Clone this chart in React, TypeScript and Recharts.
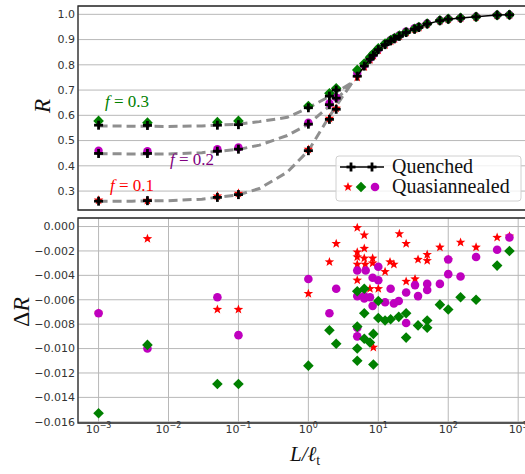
import {
  CartesianGrid,
  ComposedChart,
  ReferenceArea,
  Scatter,
  XAxis,
  YAxis,
} from 'recharts'

// ---- top panel: R vs L/l_t ----
const xLow = [0.001, 0.005, 0.05, 0.1, 1, 2, 2.5]
const quenchedLowF01 = [0.26, 0.262, 0.275, 0.286, 0.46, 0.584, 0.624]
const quenchedLowF02 = [0.449, 0.449, 0.458, 0.466, 0.565, 0.642, 0.668]
const quenchedLowF03 = [0.561, 0.56, 0.561, 0.563, 0.63, 0.676, 0.7]
const quasiLowF01 = [0.264, 0.263, 0.28, 0.291, 0.465, 0.588, 0.628]
const quasiLowF02 = [0.46, 0.458, 0.466, 0.473, 0.571, 0.647, 0.671]
const quasiLowF03 = [0.578, 0.571, 0.573, 0.578, 0.637, 0.687, 0.707]

const xHigh = [5, 6.3, 7.6, 8.5, 10, 12.5, 15, 17, 20, 25, 33, 38, 50, 76, 100, 150, 250, 500, 750]
const quenchedHigh = [0.755, 0.795, 0.822, 0.838, 0.86, 0.88, 0.895, 0.903, 0.913, 0.928, 0.941, 0.948, 0.962, 0.975, 0.981, 0.985, 0.99, 0.997, 0.998]
const quasiHighF01 = [0.75, 0.792, 0.82, 0.836, 0.858, 0.879, 0.894, 0.902, 0.913, 0.928, 0.941, 0.948, 0.962, 0.975, 0.981, 0.985, 0.99, 0.997, 0.998]
const quasiHighF02 = [0.768, 0.8, 0.827, 0.842, 0.863, 0.883, 0.898, 0.906, 0.917, 0.932, 0.945, 0.951, 0.964, 0.976, 0.982, 0.986, 0.991, 0.997, 0.998]
const quasiHighF03 = [0.78, 0.805, 0.83, 0.845, 0.865, 0.884, 0.898, 0.906, 0.916, 0.93, 0.943, 0.95, 0.963, 0.976, 0.982, 0.986, 0.99, 0.997, 0.998]

// dashed fit curves
const fitX = [0.001, 0.003, 0.01, 0.03, 0.1, 0.2, 0.5, 1, 2, 3, 4.2]
const fitF01 = [0.26, 0.26, 0.262, 0.268, 0.285, 0.31, 0.375, 0.46, 0.596, 0.67, 0.728]
const fitF02 = [0.448, 0.447, 0.447, 0.452, 0.465, 0.482, 0.52, 0.565, 0.637, 0.685, 0.727]
const fitF03 = [0.558, 0.557, 0.556, 0.558, 0.565, 0.575, 0.592, 0.63, 0.675, 0.705, 0.73]

// ---- bottom panel: delta R ----
const starX = [0.001, 0.005, 0.05, 0.1, 1, 2, 2.5, 5, 5, 5, 5, 5, 6.3, 6.3, 6.3, 6.5, 7.6, 8.3, 8.3, 8.5, 10, 12.5, 14.7, 16.7, 20, 25, 25, 33.5, 37, 50, 50, 76, 100, 150, 250, 500, 750]
const starDR = [-0.0071, -0.001, -0.0068, -0.0068, -0.0055, -0.0029, -0.0014, -0.0001, -0.0021, -0.0025, -0.0031, -0.0044, -0.0007, -0.0018, -0.0026, -0.0031, -0.0051, -0.0026, -0.003, -0.0099, -0.0051, -0.0037, -0.0029, -0.0031, -0.0006, -0.0014, -0.0045, -0.0043, -0.0027, -0.0023, -0.0028, -0.0017, -0.0027, -0.0013, -0.0017, -0.0009, -0.0008]

const circleX = [0.001, 0.005, 0.05, 0.1, 1, 2, 2.5, 5, 5, 5, 5, 6.3, 6.6, 6.3, 7.6, 8.3, 8.3, 10, 10, 12.5, 15, 16.7, 19.6, 25, 25, 33.5, 37, 50, 50, 76, 100, 100, 150, 250, 500, 750]
const circleDR = [-0.0071, -0.01, -0.0058, -0.0089, -0.0043, -0.0071, -0.0051, -0.0036, -0.0057, -0.0083, -0.009, -0.0057, -0.0036, -0.0059, -0.0058, -0.0042, -0.0065, -0.0033, -0.0044, -0.0062, -0.0051, -0.0063, -0.0061, -0.0054, -0.0079, -0.0048, -0.0057, -0.0047, -0.0052, -0.0047, -0.0027, -0.0039, -0.0041, -0.0025, -0.0019, -0.0009]

const diamondX = [0.001, 0.005, 0.05, 0.1, 1, 2, 2.5, 5, 5, 5, 5, 6.3, 6.3, 6.3, 7.6, 8.5, 8.5, 10, 10, 12.5, 15, 19.6, 25, 25, 37, 50, 50, 76, 100, 150, 250, 500, 750]
const diamondDR = [-0.0153, -0.0097, -0.0129, -0.0129, -0.0114, -0.0085, -0.0096, -0.0053, -0.0082, -0.01, -0.011, -0.0051, -0.0071, -0.0092, -0.0095, -0.0088, -0.0113, -0.0061, -0.0075, -0.0077, -0.0076, -0.0074, -0.0071, -0.0091, -0.0081, -0.0077, -0.0083, -0.0064, -0.0068, -0.0058, -0.006, -0.0032, -0.002]

const xTicks = [0.001, 0.01, 0.1, 1, 10, 100, 1000]
const rTicks = [0.3, 0.4, 0.5, 0.6, 0.7, 0.8, 0.9, 1.0]
const dTicks = [-0.016, -0.014, -0.012, -0.01, -0.008, -0.006, -0.004, -0.002, 0]

const X_DOMAIN: [number, number] = [5.08e-4, 1476]
const R_DOMAIN: [number, number] = [0.225, 1.033]
const D_DOMAIN: [number, number] = [-0.0161, 0.0007]

const SERIF = '"Liberation Serif", "Times New Roman", serif'
const SANS = '"DejaVu Sans", sans-serif'
const RED = '#ff0000'
const MAGENTA = '#bf00bf'
const GREEN = '#008000'
const GRID = '#b8b8b8'
const FRAME = '#2b2b2b'

const toPoints = (xs: number[], ys: number[]) => xs.map((x, i) => ({ x, y: ys[i] }))

function starPath(cx: number, cy: number, r: number) {
  let d = ''
  for (let i = 0; i < 10; i++) {
    const a = (-90 + i * 36) * (Math.PI / 180)
    const rr = i % 2 === 0 ? r : r * 0.42
    d += `${i === 0 ? 'M' : 'L'}${cx + rr * Math.cos(a)},${cy + rr * Math.sin(a)}`
  }
  return d + 'Z'
}

const starShape = (r: number) => (p: any) => <path d={starPath(p.cx, p.cy, r)} fill={RED} />
const circleShape = (r: number) => (p: any) => <circle cx={p.cx} cy={p.cy} r={r} fill={MAGENTA} />
const diamondShape = (r: number) => (p: any) => (
  <path d={`M${p.cx},${p.cy - r}L${p.cx + r},${p.cy}L${p.cx},${p.cy + r}L${p.cx - r},${p.cy}Z`} fill={GREEN} />
)
const plusShape = (p: any) => (
  <g stroke="#000" strokeWidth={2.8}>
    <line x1={p.cx - 4.5} y1={p.cy} x2={p.cx + 4.5} y2={p.cy} />
    <line x1={p.cx} y1={p.cy - 4.5} x2={p.cx} y2={p.cy + 4.5} />
  </g>
)
const noShape = () => <g />

function PowerTick({ x, y, payload }: any) {
  const exp = Math.round(Math.log10(payload.value))
  const label = exp < 0 ? `\u2212${-exp}` : `${exp}`
  return (
    <text x={x} y={y} dy="0.71em" textAnchor="middle" fontFamily={SANS} fontSize={11} fill="#333">
      10<tspan dy={-5} fontSize={8}>{label}</tspan>
    </text>
  )
}

const fmtR = (v: number) => v.toFixed(1)
const fmtD = (v: number) => (v < 0 ? '\u2212' : '') + Math.abs(v).toFixed(3)

const dashed = { stroke: '#8f8f8f', strokeWidth: 3, strokeDasharray: '9 5' }

export default function App() {
  return (
    <div style={{ position: 'absolute', left: 0, top: 0, width: 525, height: 474, overflow: 'hidden', background: '#fff' }}>
      <div style={{ position: 'absolute', left: 0, top: 0 }}>
        <ComposedChart width={535} height={215} margin={{ top: 6, right: 5, bottom: 5, left: 0 }}>
          <CartesianGrid stroke={GRID} />
          <XAxis dataKey="x" type="number" scale="log" domain={X_DOMAIN} ticks={xTicks} allowDataOverflow
            tick={false} tickLine={false} axisLine={false} height={0} />
          <YAxis dataKey="y" type="number" domain={R_DOMAIN} ticks={rTicks} allowDataOverflow width={78}
            tickFormatter={fmtR} tickLine={false} axisLine={false} tickSize={0} tickMargin={3}
            tick={{ fill: '#333', fontSize: 11, fontFamily: SANS }} />
          <Scatter data={toPoints(fitX, fitF01)} line={dashed} shape={noShape} isAnimationActive={false} />
          <Scatter data={toPoints(fitX, fitF02)} line={dashed} shape={noShape} isAnimationActive={false} />
          <Scatter data={toPoints(fitX, fitF03)} line={dashed} shape={noShape} isAnimationActive={false} />
          <Scatter data={toPoints(xLow, quasiLowF01).concat(toPoints(xHigh, quasiHighF01))} shape={starShape(5)} isAnimationActive={false} />
          <Scatter data={toPoints(xLow, quasiLowF02).concat(toPoints(xHigh, quasiHighF02))} shape={circleShape(4.2)} isAnimationActive={false} />
          <Scatter data={toPoints(xLow, quasiLowF03).concat(toPoints(xHigh, quasiHighF03))} shape={diamondShape(5.3)} isAnimationActive={false} />
          <Scatter data={toPoints(xLow, quenchedLowF01)} shape={plusShape} isAnimationActive={false} />
          <Scatter data={toPoints(xLow, quenchedLowF02)} shape={plusShape} isAnimationActive={false} />
          <Scatter data={toPoints(xLow, quenchedLowF03)} shape={plusShape} isAnimationActive={false} />
          <Scatter data={toPoints(xHigh, quenchedHigh)} line={{ stroke: '#000', strokeWidth: 1.5 }} shape={plusShape} isAnimationActive={false} />
          <ReferenceArea x1={X_DOMAIN[0]} x2={X_DOMAIN[1]} y1={R_DOMAIN[0]} y2={R_DOMAIN[1]}
            fill="none" stroke={FRAME} strokeWidth={1.3} />
        </ComposedChart>
      </div>

      <div style={{ position: 'absolute', left: 0, top: 213 }}>
        <ComposedChart width={535} height={261} margin={{ top: 5, right: 5, bottom: 21, left: 0 }}>
          <CartesianGrid stroke={GRID} />
          <XAxis dataKey="x" type="number" scale="log" domain={X_DOMAIN} ticks={xTicks} allowDataOverflow
            tick={<PowerTick />} tickLine={false} axisLine={false} tickSize={0} tickMargin={2} height={30} />
          <YAxis dataKey="y" type="number" domain={D_DOMAIN} ticks={dTicks} allowDataOverflow width={78}
            tickFormatter={fmtD} tickLine={false} axisLine={false} tickSize={0} tickMargin={3}
            tick={{ fill: '#333', fontSize: 11, fontFamily: SANS }} />
          <Scatter data={toPoints(starX, starDR)} shape={starShape(5)} isAnimationActive={false} />
          <Scatter data={toPoints(circleX, circleDR)} shape={circleShape(4.3)} isAnimationActive={false} />
          <Scatter data={toPoints(diamondX, diamondDR)} shape={diamondShape(5.3)} isAnimationActive={false} />
          <ReferenceArea x1={X_DOMAIN[0]} x2={X_DOMAIN[1]} y1={D_DOMAIN[0]} y2={D_DOMAIN[1]}
            fill="none" stroke={FRAME} strokeWidth={1.3} />
        </ComposedChart>
      </div>

      <svg width={525} height={474} style={{ position: 'absolute', left: 0, top: 0, pointerEvents: 'none' }}>
        {/* axis titles */}
        <text transform="translate(50,106) rotate(-90)" textAnchor="middle" fontFamily={SERIF} fontSize={23} fontStyle="italic" fill="#111">R</text>
        <text transform="translate(29,312) rotate(-90)" textAnchor="middle" fontFamily={SERIF} fontSize={24} fill="#111">
          Δ<tspan fontStyle="italic">R</tspan>
        </text>
        <text x={290} y={461} fontFamily={SERIF} fontSize={21} fontStyle="italic" fill="#111">
          L/ℓ<tspan fontStyle="normal" fontSize={14} dy={4}>t</tspan>
        </text>

        {/* curve annotations */}
        <text x={105} y={107} fontFamily={SERIF} fontSize={17} fill={GREEN}>
          <tspan fontStyle="italic">f</tspan> = 0.3
        </text>
        <text x={170} y={165} fontFamily={SERIF} fontSize={17} fill="#800080">
          <tspan fontStyle="italic">f</tspan> = 0.2
        </text>
        <text x={110} y={191} fontFamily={SERIF} fontSize={17} fill={RED}>
          <tspan fontStyle="italic">f</tspan> = 0.1
        </text>

        {/* legend */}
        <rect x={336} y={156} width={185} height={45} rx={3} fill="#fff" fillOpacity={0.8} stroke="#d0d0d0" />
        <line x1={340} y1={167} x2={384} y2={167} stroke="#000" strokeWidth={1.5} />
        {plusShape({ cx: 351, cy: 167 })}
        {plusShape({ cx: 372, cy: 167 })}
        <text x={392} y={173} fontFamily={SERIF} fontSize={20} fill="#111">Quenched</text>
        {starShape(5)({ cx: 348, cy: 187 })}
        {diamondShape(5.3)({ cx: 361, cy: 187 })}
        {circleShape(4.3)({ cx: 375, cy: 187 })}
        <text x={392} y={193} fontFamily={SERIF} fontSize={20} fill="#111">Quasiannealed</text>
      </svg>
    </div>
  )
}
